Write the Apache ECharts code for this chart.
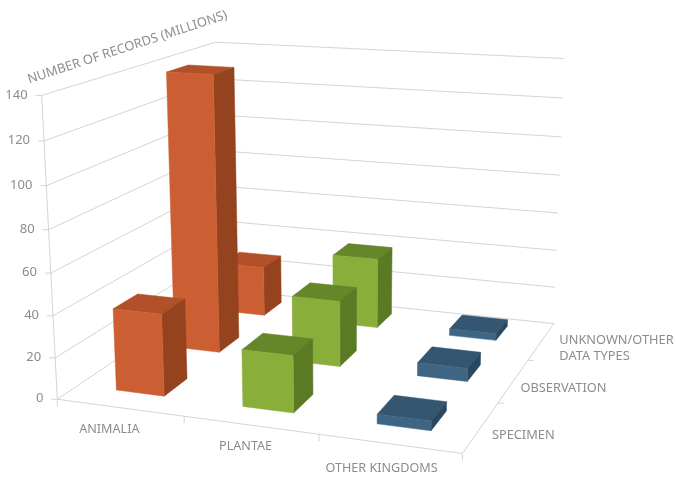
<!DOCTYPE html>
<html>
<head>
<meta charset="utf-8">
<style>html,body{margin:0;padding:0;background:#fff}#chart{width:676px;height:477px}</style>
<script src="https://cdn.jsdelivr.net/npm/echarts@6/dist/echarts.min.js"></script>
</head>
<body>
<div id="chart"></div>
<script>
// Records per kingdom, split by data type (millions)
const kingdoms = ['ANIMALIA', 'PLANTAE', 'OTHER KINGDOMS'];
const dataTypes = ['SPECIMEN', 'OBSERVATION', 'UNKNOWN/OTHER\nDATA TYPES'];
const specimen = [39.5, 27, 4.5];
const observation = [139, 33, 6.5];
const unknownOther = [26.5, 37, 3.5];
const valueTicks = [0, 20, 40, 60, 80, 100, 120, 140];
const valueMax = 140;
const valueTitle = 'NUMBER OF RECORDS (MILLIONS)';

const WIDTH = 676, HEIGHT = 477;
const FONT = '"Noto Sans", Lato, sans-serif';
const GRID_COLOR = '#d4d4d4';
const LABEL_COLOR = '#8c8c8c';

// Known views of the chart box: [kingdom units, data type units, value] -> screen.
// The floor's near-right corner is listed several times so the fit holds it firmly.
const viewAnchors = [
  [0, 0, 0, 56, 398.5], [3, 0, 0, 464, 453], [3, 0, 0, 464, 453], [3, 0, 0, 464, 453],
  [3, 0, 0, 464, 453], [3, 3, 0, 554, 323], [0, 3, 0, 224, 290],
  [0, 0, 140, 43, 97], [0, 3, 140, 214, 41], [3, 3, 140, 564, 59],
  [0, 0, 80, 49, 229], [3, 3, 80, 561, 175],
  [1, 0, 0, 182, 416.5], [2, 0, 0, 318, 435], [3, 1, 0, 495, 404], [3, 2, 0, 525, 361]
];

// Label placement relative to the projected axis position
const kingdomLabelOffsets = [[-10.5, 22], [-5, 21], [-8, 24.5]];
const dataTypeLabelOffsets = [[11, 8], [7, 7], [18, 7]];
// Where each data type's row of bars sits: depth position and sideways nudge
const rowCentres = [0.52, 1.57, 2.6];
const rowNudges = [0.004, -0.012, -0.04];

// Least-squares fit of the perspective camera for the box
function fitCamera(anchors) {
  const A = Array.from({length: 11}, () => new Array(12).fill(0));
  const addRow = (r, b) => {
    for (let i = 0; i < 11; i++) {
      for (let j = 0; j < 11; j++) A[i][j] += r[i] * r[j];
      A[i][11] += r[i] * b;
    }
  };
  anchors.forEach(([X, Y, V, x, y]) => {
    const Z = V / valueMax * 3;
    addRow([X, Y, Z, 1, 0, 0, 0, 0, -x * X, -x * Y, -x * Z], x);
    addRow([0, 0, 0, 0, X, Y, Z, 1, -y * X, -y * Y, -y * Z], y);
  });
  for (let c = 0; c < 11; c++) {
    let p = c;
    for (let r = c + 1; r < 11; r++) if (Math.abs(A[r][c]) > Math.abs(A[p][c])) p = r;
    [A[c], A[p]] = [A[p], A[c]];
    for (let r = 0; r < 11; r++) {
      if (r === c) continue;
      const f = A[r][c] / A[c][c];
      for (let k = c; k < 12; k++) A[r][k] -= f * A[c][k];
    }
  }
  return A.map((row, i) => row[11] / row[i]);
}
const cam = fitCamera(viewAnchors);
function project(X, Y, V) {
  const Z = V / valueMax * 3;
  const w = cam[8] * X + cam[9] * Y + cam[10] * Z + 1;
  return [
    (cam[0] * X + cam[1] * Y + cam[2] * Z + cam[3]) / w,
    (cam[4] * X + cam[5] * Y + cam[6] * Z + cam[7]) / w
  ];
}

// The hidden cartesian grid supplies the scales; its output feeds the camera
function boxPoint(api, catIndex, value) {
  const c = api.coord([catIndex, value]);
  return {X: c[0] / WIDTH * kingdoms.length, V: (HEIGHT - c[1]) / HEIGHT * valueMax};
}

const BAR_W = 0.385, BAR_D = 0.40;
const palettes = [
  {front: '#cc5e33', top: '#b15029', side: '#95421e'},
  {front: '#8aae3a', top: '#66862a', side: '#5b7a24'},
  {front: '#3e6684', top: '#345670', side: '#2a4760'}
];

function poly(points, fill) {
  return {type: 'polygon', shape: {points}, style: {fill, stroke: fill, lineWidth: 0.5}};
}

function barSeries(values, depthIndex, z) {
  return {
    type: 'custom', coordinateSystem: 'cartesian2d', z, silent: true,
    data: values.map((v, i) => [i, v]),
    encode: {x: 0, y: 1},
    renderItem(params, api) {
      const p = boxPoint(api, api.value(0), api.value(1));
      const pal = palettes[params.dataIndex];
      const cx = p.X + rowNudges[depthIndex];
      const x0 = cx - BAR_W / 2, x1 = cx + BAR_W / 2;
      const d0 = rowCentres[depthIndex] - BAR_D / 2, d1 = rowCentres[depthIndex] + BAR_D / 2;
      const v = p.V;
      return {type: 'group', children: [
        poly([project(x0, d1, v), project(x1, d1, v), project(x1, d0, v), project(x0, d0, v)], pal.top),
        poly([project(x1, d0, 0), project(x1, d1, 0), project(x1, d1, v), project(x1, d0, v)], pal.side),
        poly([project(x0, d0, 0), project(x1, d0, 0), project(x1, d0, v), project(x0, d0, v)], pal.front)
      ]};
    }
  };
}

function line(a, b) {
  return {type: 'line', shape: {x1: a[0], y1: a[1], x2: b[0], y2: b[1]},
    style: {stroke: GRID_COLOR, lineWidth: 1}};
}
function label(text, x, y, align, size, extra) {
  return Object.assign({type: 'text', x, y,
    style: {text, x: 0, y: 0, fill: LABEL_COLOR, font: size + 'px ' + FONT,
      align: align || 'left', verticalAlign: 'middle', lineHeight: 16}}, extra || {});
}

// Walls, floor edges, tick marks and all axis text
const frameSeries = {
  type: 'custom', coordinateSystem: 'cartesian2d', z: 1, silent: true,
  data: [[0, 0]],
  encode: {x: 0, y: 1},
  renderItem(params, api) {
    const nX = kingdoms.length, nD = dataTypes.length;
    const kids = [];
    valueTicks.forEach(t => {
      const V = boxPoint(api, 0, t).V;
      const a = project(0, 0, V), b = project(0, nD, V), c = project(nX, nD, V);
      kids.push(line(a, b), line(b, c), line([a[0] - 6, a[1]], a));
      kids.push(label(String(t), a[0] - 14, a[1] - 0.5, 'right', 13));
    });
    kids.push(line(project(0, 0, 0), project(0, 0, valueMax)));
    kids.push(line(project(0, 0, 0), project(nX, 0, 0)));
    kids.push(line(project(nX, 0, 0), project(nX, nD, 0)));
    for (let i = 0; i <= nX; i++) {
      const a = project(i, 0, 0);
      kids.push(line(a, [a[0], a[1] + 7]));
      if (i < nX) {
        const m = project(i + 0.5, 0, 0);
        const o = kingdomLabelOffsets[i];
        kids.push(label(kingdoms[i], m[0] + o[0], m[1] + o[1], 'center', 12.6));
      }
    }
    for (let j = 0; j <= nD; j++) {
      const a = project(nX, j, 0);
      if (j > 0 && j < nD) kids.push(line(a, [a[0] + 6, a[1]]));
      if (j < nD) {
        const m = project(nX, j + 0.5, 0);
        const o = dataTypeLabelOffsets[j];
        kids.push(label(dataTypes[j], m[0] + o[0], m[1] + o[1], 'left', 12.8));
      }
    }
    kids.push(label(valueTitle, 28, 80, 'left', 13, {rotation: Math.atan2(56, 171)}));
    return {type: 'group', children: kids};
  }
};

const chart = echarts.init(document.getElementById('chart'), null, {renderer: 'canvas'});
chart.setOption({
  animation: false,
  backgroundColor: '#ffffff',
  grid: {left: 0, right: 0, top: 0, bottom: 0},
  xAxis: {type: 'category', data: kingdoms, show: false},
  yAxis: {type: 'value', min: 0, max: valueMax, interval: 20, show: false},
  series: [
    frameSeries,
    barSeries(unknownOther, 2, 2),
    barSeries(observation, 1, 3),
    barSeries(specimen, 0, 4)
  ]
});
</script>
</body>
</html>
